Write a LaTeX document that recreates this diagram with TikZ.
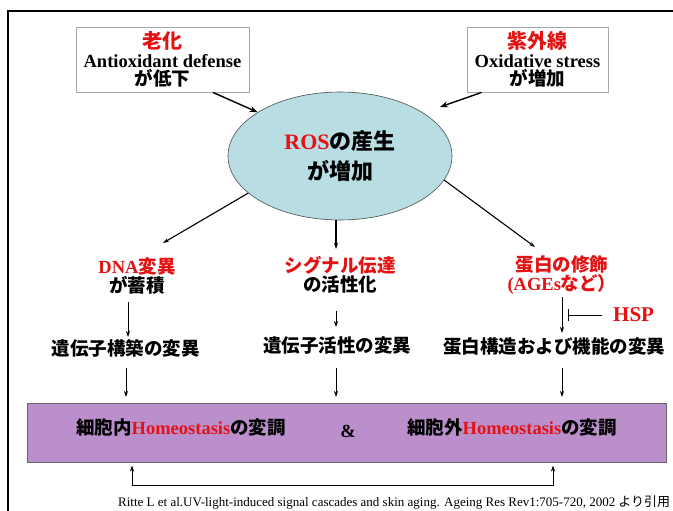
\documentclass[tikz,border=0pt]{standalone}
\usepackage{fontspec}
\setmainfont{Liberation Serif}
\newfontfamily\jpfont{Noto Sans CJK JP}
\usetikzlibrary{arrows.meta,shapes.geometric,calc}
\definecolor{rosfill}{RGB}{184,222,228}
\definecolor{homeo}{RGB}{186,143,204}
\definecolor{jred}{RGB}{228,18,18}
\newcommand{\jb}[1]{{\jpfont\bfseries #1}}
\newcommand{\fsz}[1]{\fontsize{#1}{#1}\selectfont}
\begin{document}
\begin{tikzpicture}[x=1pt,y=-1pt,
 txt/.style={inner sep=0pt,align=center,font=\fsz{18.5}},
 topbox/.style={draw=gray!70,line width=0.9pt,fill=white,inner sep=0pt},
 arr/.style={-{Stealth[length=8pt,width=6pt]},line width=1.4pt},
 arrs/.style={-{Stealth[length=6pt,width=4pt]},line width=0.9pt}]
\fill[white] (0,0) rectangle (673,511);
\useasboundingbox (0,0) rectangle (673,511);
\draw[line width=1.2pt] (673,11) -- (8,11) -- (8,511);

% top boxes
\node[topbox,txt,minimum width=173pt,minimum height=65pt] (b1) at (162.5,59.5)
 {\textcolor{jred}{\jb{\fsz{20}老化}}\\\textbf{Antioxidant defense}\\\jb{が低下}};
\node[topbox,txt,minimum width=141pt,minimum height=65pt] (b2) at (537.5,59.5)
 {\textcolor{jred}{\jb{\fsz{20}紫外線}}\\\textbf{Oxidative stress}\\\jb{が増加}};

% ellipse
\node[ellipse,draw=black!70,line width=0.6pt,fill=rosfill,minimum width=224pt,minimum height=128pt,
 inner sep=0pt,align=center,font=\fsz{22}] (ros) at (340,156)
 {\textcolor{jred}{\textbf{ROS}}\jb{の産生}\\[8pt]\jb{が増加}};

% middle texts
\node[txt] (dna) at (137,276) {\textcolor{jred}{\textbf{DNA}\jb{変異}}\\\jb{が蓄積}};
\node[txt] (sig) at (340,275) {\textcolor{jred}{\jb{シグナル伝達}}\\\jb{の活性化}};
\node[txt] (prot) at (562,275) {\textcolor{jred}{\jb{蛋白の修飾}}\\\textcolor{jred}{\textbf{(AGEs}\jb{など）}}};

\node[txt] (g1) at (126,348) {\jb{遺伝子構築の変異}};
\node[txt] (g2) at (337,345) {\jb{遺伝子活性の変異}};
\node[txt] (g3) at (554,347) {\jb{蛋白構造および機能の変異}};
\node[txt,font=\fsz{21},anchor=west] (hsp) at (613,315) {\textcolor{jred}{\textbf{HSP}}};

% purple box
\node[draw=black!60,line width=0.6pt,fill=homeo,minimum width=639pt,minimum height=59pt,inner sep=0pt] (hbox) at (346.5,432.5) {};
\node[txt] (in1) at (181,427) {\jb{細胞内}\textcolor{jred}{\textbf{Homeostasis}}\jb{の変調}};
\node[txt] (amp) at (348,431) {\textbf{\&}};
\node[txt] (in2) at (512,427) {\jb{細胞外}\textcolor{jred}{\textbf{Homeostasis}}\jb{の変調}};

% citation
\node[inner sep=0pt,anchor=west,font=\fsz{13}] (cite) at (118,503)
 {Ritte L et al.UV-light-induced signal cascades and skin aging. Ageing Res Rev1:705-720, 2002 {\jpfont より引用}};

% arrows into ROS
\draw[arr] ([xshift=50.5pt]b1.south) -- (ros.152);
\draw[arr] ([xshift=-56pt]b2.south) -- ($(ros.center)+(100,-49)$);

% arrows out of ROS
\draw[arrs,line width=1.1pt] (ros.202) -- ($(dna.center)+(26,-33)$);
\draw[arrs,line width=1.1pt] ($(ros.south)+(-4,0)$) -- ($(sig.center)+(-4,-26)$);
\draw[arrs,line width=1.1pt] (ros.-13) -- ($(prot.center)+(-27,-28)$);

% second level
\draw[arrs] ($(g1.center)+(2,-46)$) -- ($(g1.center)+(2,-11)$);
\draw[arrs] ($(g2.center)+(-1,-34)$) -- ($(g2.center)+(-1,-18)$);
\draw[arrs] ($(prot.center)+(0,22)$) -- ($(prot.center)+(0,58)$);
\draw[line width=1pt,-{Bar[width=12pt]}] ($(hsp.west)+(-11,0)$) -- ($(prot.center)+(6,40)$);

% into purple box
\draw[arrs] ($(g1.center)+(0,20)$) -- ($(g1.center)+(0,49)$);
\draw[arrs] ($(g2.center)+(-1,23)$) -- ($(g2.center)+(-1,52)$);
\draw[arrs] ($(g3.center)+(8,21)$) -- ($(g3.center)+(8,50)$);

% feedback
\draw[arrs,{Stealth[length=6pt,width=4pt]}-{Stealth[length=6pt,width=4pt]}]
 ($(hbox.center)+(-214.5,33)$) -- ($(hbox.center)+(-214.5,52.5)$)
 -- ($(hbox.center)+(206.5,52.5)$) -- ($(hbox.center)+(206.5,33)$);
\end{tikzpicture}
\end{document}
